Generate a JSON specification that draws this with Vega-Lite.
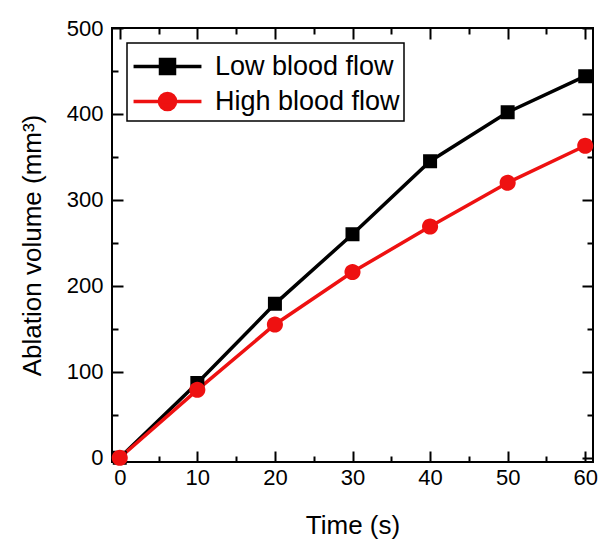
{
  "$schema": "https://vega.github.io/schema/vega-lite/v6.json",
  "width": 481,
  "height": 434,
  "autosize": {"type": "none"},
  "padding": {"left": 112, "top": 28, "right": 5, "bottom": 79},
  "background": "white",
  "data": {
    "values": [
      {"time": 0, "volume": 0, "series": "Low blood flow"},
      {"time": 10, "volume": 87, "series": "Low blood flow"},
      {"time": 20, "volume": 179, "series": "Low blood flow"},
      {"time": 30, "volume": 260, "series": "Low blood flow"},
      {"time": 40, "volume": 345, "series": "Low blood flow"},
      {"time": 50, "volume": 402, "series": "Low blood flow"},
      {"time": 60, "volume": 444, "series": "Low blood flow"},
      {"time": 0, "volume": 0, "series": "High blood flow"},
      {"time": 10, "volume": 79, "series": "High blood flow"},
      {"time": 20, "volume": 155, "series": "High blood flow"},
      {"time": 30, "volume": 216, "series": "High blood flow"},
      {"time": 40, "volume": 269, "series": "High blood flow"},
      {"time": 50, "volume": 320, "series": "High blood flow"},
      {"time": 60, "volume": 363, "series": "High blood flow"}
    ]
  },
  "layer": [
    {
      "mark": {"type": "line", "strokeWidth": 3.5},
      "encoding": {
        "x": {
          "field": "time", "type": "quantitative",
          "scale": {"domain": [-1, 61], "nice": false, "zero": false},
          "axis": {
            "orient": "bottom",
            "title": "Time (s)",
            "values": [0, 5, 10, 15, 20, 25, 30, 35, 40, 45, 50, 55, 60],
            "labelExpr": "datum.value % 10 === 0 ? datum.label : ''",
            "tickSize": {"condition": {"test": "datum.value % 10 === 0", "value": -11}, "value": -6},
            "labelPadding": 16,
            "titlePadding": 24
          }
        },
        "y": {
          "field": "volume", "type": "quantitative",
          "scale": {"domain": [-5, 500], "nice": false, "zero": false},
          "axis": {
            "orient": "left",
            "title": "Ablation volume (mm³)",
            "values": [0, 50, 100, 150, 200, 250, 300, 350, 400, 450, 500],
            "labelExpr": "datum.value % 100 === 0 ? datum.label : ''",
            "tickSize": {"condition": {"test": "datum.value % 100 === 0", "value": -11}, "value": -6},
            "labelPadding": 20,
            "titlePadding": 21
          }
        },
        "color": {
          "field": "series", "type": "nominal",
          "scale": {"domain": ["Low blood flow", "High blood flow"], "range": ["black", "#ee1111"]}
        }
      }
    },
    {
      "mark": {"type": "point", "filled": true, "opacity": 1, "size": 1225, "strokeWidth": 0},
      "encoding": {
        "x": {"field": "time", "type": "quantitative", "axis": null},
        "y": {"field": "volume", "type": "quantitative", "axis": null},
        "color": {
          "field": "series", "type": "nominal",
          "scale": {"domain": ["Low blood flow", "High blood flow"], "range": ["black", "#ee1111"]}
        },
        "shape": {
          "field": "series", "type": "nominal",
          "scale": {
            "domain": ["Low blood flow", "High blood flow"],
            "range": [
              "M-1.94,0H1.94M-0.4,-0.4H0.4V0.4H-0.4Z",
              "M-1.94,0H1.94M0.46,0A0.46,0.46,0,1,1,-0.46,0A0.46,0.46,0,1,1,0.46,0Z"
            ]
          }
        }
      }
    },
    {
      "mark": {"type": "line", "opacity": 0},
      "encoding": {
        "x": {
          "field": "time", "type": "quantitative",
          "axis": {
            "orient": "top",
            "title": null,
            "labels": false,
            "values": [0, 5, 10, 15, 20, 25, 30, 35, 40, 45, 50, 55, 60],
            "tickSize": {"condition": {"test": "datum.value % 10 === 0", "value": -11}, "value": -6}
          }
        },
        "y": {
          "field": "volume", "type": "quantitative",
          "axis": {
            "orient": "right",
            "title": null,
            "labels": false,
            "values": [0, 50, 100, 150, 200, 250, 300, 350, 400, 450, 500],
            "tickSize": {"condition": {"test": "datum.value % 100 === 0", "value": -11}, "value": -6}
          }
        },
        "detail": {"field": "series"}
      }
    }
  ],
  "resolve": {"axis": {"x": "independent", "y": "independent"}},
  "config": {
    "font": "Liberation Sans",
    "view": {"stroke": "black", "strokeWidth": 2},
    "axis": {
      "domain": false,
      "grid": false,
      "tickColor": "black",
      "tickWidth": 2,
      "labelColor": "black",
      "labelFont": "Liberation Sans",
      "labelFontSize": 22,
      "titleFont": "Liberation Sans",
      "titleFontSize": 26,
      "titleFontWeight": "normal",
      "titleColor": "black"
    },
    "legend": {
      "title": null,
      "orient": "none",
      "legendX": 15,
      "legendY": 15,
      "direction": "vertical",
      "strokeColor": "black",
      "fillColor": "white",
      "strokeWidth": 1.5,
      "padding": 4,
      "labelFont": "Liberation Sans",
      "labelFontSize": 27,
      "labelColor": "black",
      "labelLimit": 400,
      "symbolSize": 1225,
      "symbolOffset": 17,
      "symbolStrokeWidth": 3.5,
      "labelOffset": 28,
      "rowPadding": 1
    }
  }
}
